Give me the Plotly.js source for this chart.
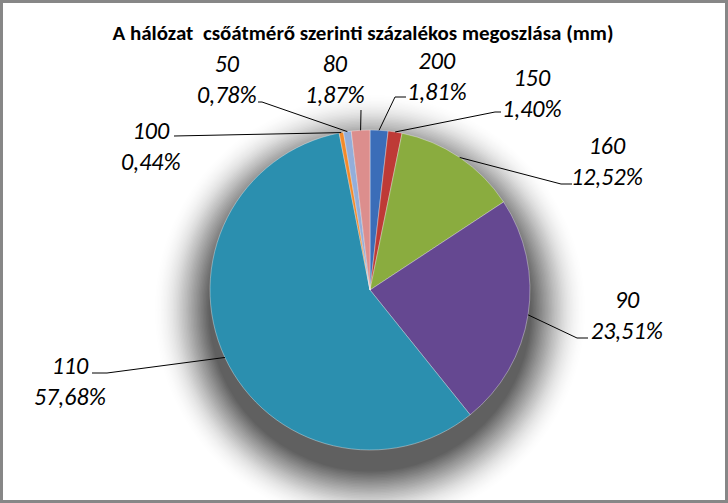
<!DOCTYPE html>
<html>
<head>
<meta charset="utf-8">
<script src="https://cdn.plot.ly/plotly-3.0.1.min.js"></script>
<style>
  html, body { margin: 0; padding: 0; background: #fff; }
  #chart { width: 728px; height: 503px; }
</style>
</head>
<body>
<div id="chart"></div>
<script>
// pipe diameters (mm) and their share of the network, clockwise from 12 o'clock
const categories = ["200", "150", "160", "90", "110", "100", "50", "80"];
const shares = [1.81, 1.40, 12.52, 23.51, 57.68, 0.44, 0.78, 1.87];

const colors = ["#3B6DB8", "#BE3A36", "#8AAC3F", "#654891", "#2B8FAF", "#F28A2A", "#93AEDA", "#DC8E8D"];

// where each label sits (pixels): centre of the two-line label, leader elbow and tail
const labelPlaces = [
  { at: [437, 76],  elbow: [395, 97],  tail: [406, 97] },
  { at: [532, 93],  elbow: [495, 112], tail: [501, 112] },
  { at: [607, 161], elbow: [561, 184], tail: [572, 184] },
  { at: [627, 315], elbow: [577, 338], tail: [588, 338] },
  { at: [70, 381],  elbow: [107, 373], tail: [92, 373] },
  { at: [151, 146], elbow: [174, 136], tail: [174, 136] },
  { at: [227, 79],  elbow: [262, 102], tail: [258, 102] },
  { at: [335, 79],  elbow: [361, 110], tail: [361, 110] }
];

const W = 728, H = 503;
const cx = 370, cy = 290, r = 160;
const px = x => x / W;
const py = y => 1 - y / H;

const fontFam = "Carlito, Lato, 'Open Sans', sans-serif";

const fmtPct = v => v.toFixed(2).replace(".", ",") + "%";

var total = shares.reduce((a, b) => a + b, 0);

var annotations = [];
var shapes = [];

// soft drop shadow, heavier below the pie (inner rings darker, outer rings faint)
var N = 40;
for (var k = N; k >= 1; k--) {
  var rr = r + k * 1.5;
  var sy = cy + 20;
  var a = 0.05 * Math.pow(1 - k / (N + 1), 1.3);
  shapes.push({
    type: "circle", xref: "paper", yref: "paper", layer: "below",
    x0: px(cx - rr), x1: px(cx + rr), y0: py(sy + rr), y1: py(sy - rr),
    fillcolor: "rgba(0,0,0," + a.toFixed(4) + ")", line: { width: 0 }
  });
}

var cum = 0;
shares.forEach(function (v, i) {
  var ang = (cum + v / 2) / total * 2 * Math.PI;
  cum += v;
  var ex = cx + r * Math.sin(ang);
  var ey = cy - r * Math.cos(ang);
  var p = labelPlaces[i];
  shapes.push({
    type: "path", xref: "paper", yref: "paper",
    path: "M" + px(ex) + "," + py(ey) + " L" + px(p.elbow[0]) + "," + py(p.elbow[1]) +
          " L" + px(p.tail[0]) + "," + py(p.tail[1]),
    line: { color: "#000000", width: 1 }
  });
  annotations.push({
    text: categories[i] + "<br>" + fmtPct(v), x: px(p.at[0]), y: py(p.at[1]),
    xref: "paper", yref: "paper", xanchor: "center", yanchor: "middle", align: "center",
    showarrow: false,
    font: { family: fontFam, size: 24, style: "italic", color: "#000" }
  });
});

// chart border
shapes.push({
  type: "rect", xref: "paper", yref: "paper", x0: 0, x1: 1, y0: 0, y1: 1,
  line: { color: "#878787", width: 6 }
});

var data = [{
  type: "pie",
  values: shares,
  labels: categories,
  sort: false,
  direction: "clockwise",
  rotation: 0,
  textinfo: "none",
  hoverinfo: "label+percent",
  marker: { colors: colors, line: { color: "rgba(255,255,255,0.35)", width: 1 } },
  domain: { x: [px(cx - r), px(cx + r)], y: [py(cy + r), py(cy - r)] }
}];

var layout = {
  width: W, height: H,
  margin: { t: 0, b: 0, l: 0, r: 0 },
  paper_bgcolor: "#ffffff",
  showlegend: false,
  title: {
    text: "A hálózat  csőátmérő szerinti százalékos megoszlása (mm)",
    x: px(363), xanchor: "center", y: py(33), yanchor: "middle",
    font: { family: fontFam, size: 21, weight: "bold", color: "#000" }
  },
  shapes: shapes,
  annotations: annotations
};

Plotly.newPlot("chart", data, layout, { displayModeBar: false, staticPlot: true });
</script>
</body>
</html>
